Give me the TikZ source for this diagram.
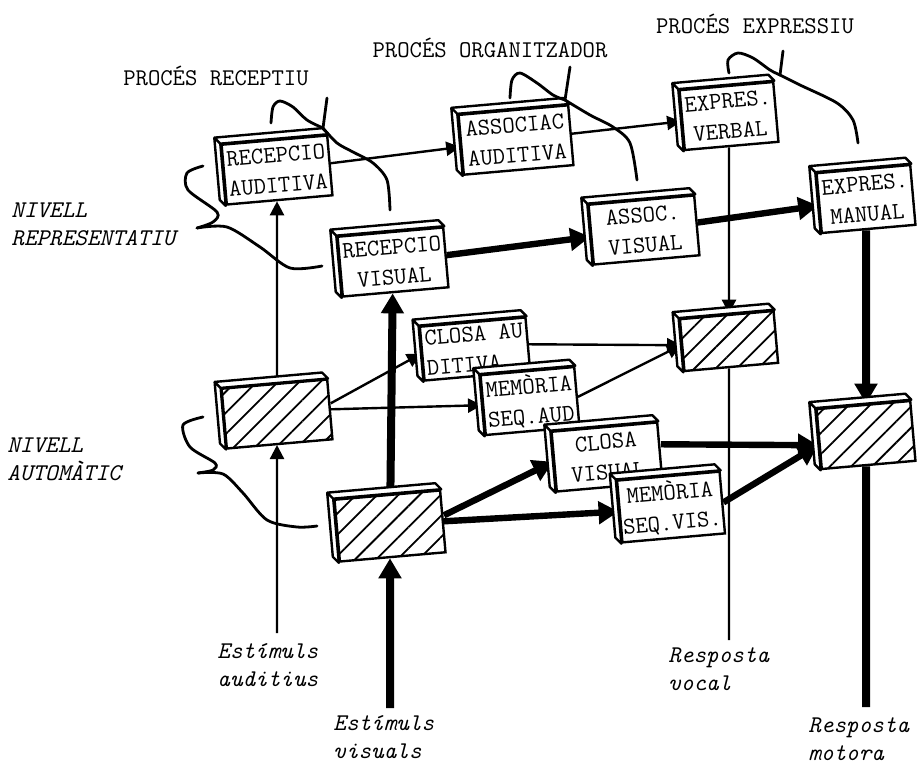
\documentclass[tikz,border=0pt]{standalone}
\usetikzlibrary{arrows.meta, patterns.meta, calc}
\newcommand{\lletra}{\ttfamily\fontsize{12}{15}\selectfont}
\newcommand{\lletrait}{\ttfamily\itshape\fontsize{12}{14}\selectfont}

\begin{document}
\begin{tikzpicture}[x=0.5pt, y=-0.5pt,
	caixa/.style={draw, line width=1.2pt, fill=white, rotate=5, minimum width=53pt,
		minimum height=30pt, inner sep=1pt, align=center, font=\lletra},
	estreta/.style={minimum width=47pt},
	ratllat/.style={caixa, preaction={fill=white}, pattern color=black,
		pattern={Lines[angle=45,distance=7.5pt,line width=0.9pt]}},
	lateral/.style={draw, line width=1.2pt, fill=white, line join=round},
	prim/.style={line width=1.2pt, -{Triangle[length=7pt,width=7pt]}},
	fort/.style={line width=3.2pt, -{Triangle[length=10pt,width=11pt]}},
	clau/.style={line width=1.4pt, line cap=round},
	titol/.style={font=\lletra, anchor=base},
	etiqueta/.style={font=\lletrait, align=left, anchor=north west, inner sep=0pt}]
	\useasboundingbox (0,0) rectangle (921,766);

	% caixes
	\node[caixa] (recaud) at (277,170) {RECEPCIO\\AUDITIVA};
	\node[caixa] (recvis) at (393,262) {RECEPCIO\\VISUAL};
	\node[caixa, minimum width=55pt] (assaud) at (516,140) {ASSOCIAC\\AUDITIVA};
	\node[caixa] (assvis) at (644,230) {ASSOC.\\VISUAL};
	\node[caixa, estreta] (expverb) at (729,116) {EXPRES.\\VERBAL};
	\node[caixa, estreta] (expman) at (866,199) {EXPRES.\\MANUAL};
	\node[ratllat] (hataud) at (277,414) {};
	\node[ratllat, minimum height=31pt] (hatvis) at (390,526) {};
	\node[caixa, align=left, minimum height=27pt] (closaud) at (475,349) {CLOSA AU\\DITIVA};
	\node[caixa, estreta] (memaud) at (530,401) {MEMÒRIA\\SEQ.AUD};
	\node[ratllat, estreta, minimum height=26pt] (hatvoc) at (729,341) {};
	\node[caixa] (closvis) at (607,457) {CLOSA\\VISUAL};
	\node[caixa, estreta, minimum height=31pt] (memvis) at (671,507) {MEMÒRIA\\SEQ.VIS.};
	\node[ratllat, estreta] (hatmot) at (866,435) {};

	% textos
	\node[titol] (precep) at (216,85) {PROCÉS RECEPTIU};
	\node[titol] (porg) at (490,57) {PROCÉS ORGANITZADOR};
	\node[titol] (pexp) at (755,33) {PROCÉS EXPRESSIU};
	\node[etiqueta] (nrep) at (11,202) {NIVELL\\REPRESENTATIU};
	\node[etiqueta] (naut) at (7,437) {NIVELL\\AUTOMÀTIC};
	\node[etiqueta] (estaud) at (217,643) {Estímuls\\auditius};
	\node[etiqueta] (estvis) at (333,715) {Estímuls\\visuals};
	\node[etiqueta] (respvoc) at (668,647) {Resposta\\vocal};
	\node[etiqueta] (respmot) at (808,717) {Resposta\\motora};

	\coordinate (peuaud) at (277,633);
	\coordinate (peuvis) at (390,708);
	\coordinate (peuvoc) at (729,640);
	\coordinate (peumot) at (866,707);

	% fletxes verticals
	\draw[prim] (peuaud) -- (hataud);
	\draw[prim] (hataud) -- (recaud);
	\draw[fort, line width=4pt] (peuvis) -- (hatvis);
	\draw[fort, line width=4pt] (hatvis) -- (recvis);
	\draw[prim] (expverb) -- (hatvoc);
	\draw[line width=1.2pt] (hatvoc) -- (peuvoc);
	\draw[fort, line width=4pt] (expman) -- (hatmot);
	\draw[line width=4pt] (hatmot) -- (peumot);

	% fletxes horitzontals
	\draw[prim] (recaud) -- (assaud);
	\draw[prim] (assaud) -- (expverb);
	\draw[fort] (recvis) -- (assvis);
	\draw[fort] (assvis) -- (expman);
	\draw[prim] ([yshift=3pt]hataud.east) -- (closaud.west);
	\draw[prim] (hataud.east) -- (memaud.west);
	\draw[prim] (closaud.east) -- (hatvoc.west);
	\draw[prim] (memaud.east) -- (hatvoc.west);
	\draw[fort] ([yshift=3pt]hatvis.east) -- (closvis.west);
	\draw[fort] (hatvis.east) -- (memvis.west);
	\draw[fort] ([yshift=4pt]closvis.east) -- ([yshift=-3pt]hatmot.west);
	\draw[fort] (memvis.east) -- ([yshift=-3pt]hatmot.west);

	% gruix de les caixes
	\foreach \c in {recaud,recvis,assaud,assvis,expverb,expman,hataud,hatvis,closaud,memaud,hatvoc,closvis,memvis,hatmot}
		\draw[lateral] (\c.south west) -- ++(-3pt,3pt) -- ($(\c.north west)+(-3pt,3pt)$)
			-- ($(\c.north east)+(-3pt,3pt)$) -- (\c.north east) -- (\c.north west) -- cycle
			(\c.north west) -- ++(-3pt,3pt);

	% claus
	\draw[clau] (327,98) -- (323,128);
	\draw[clau] plot[smooth, tension=0.5] coordinates {(271,123) (273,107) (280,101) (293,107) (307,120) (323,128)};
	\draw[clau] plot[smooth, tension=0.5] coordinates {(323,128) (337,143) (353,152) (373,163) (387,180) (390,210)};
	\draw[clau] (570,67) -- (565,100);
	\draw[clau] plot[smooth, tension=0.5] coordinates {(510,98) (512,80) (520,73) (537,83) (553,95) (565,100)};
	\draw[clau] plot[smooth, tension=0.5] coordinates {(565,100) (590,115) (613,127) (630,143) (637,180)};
	\draw[clau] (783,51) -- (780,75);
	\draw[clau] plot[smooth, tension=0.5] coordinates {(729,73) (728,60) (738,53) (753,58) (770,70) (780,75)};
	\draw[clau] plot[smooth, tension=0.5] coordinates {(780,75) (800,85) (837,103) (853,120) (858,143)};
	\draw[clau] plot[smooth, tension=0.5] coordinates {(203,166) (187,173) (188,190) (217,212) (213,222) (197,228)};
	\draw[clau] plot[smooth, tension=0.5] coordinates {(197,228) (227,227) (260,247) (290,268) (322,266)};
	\draw[clau] plot[smooth, tension=0.5] coordinates {(203,417) (183,425) (190,447) (215,463) (213,470) (198,473)};
	\draw[clau] plot[smooth, tension=0.5] coordinates {(198,473) (223,474) (243,493) (267,520) (297,527) (317,526)};
\end{tikzpicture}
\end{document}
